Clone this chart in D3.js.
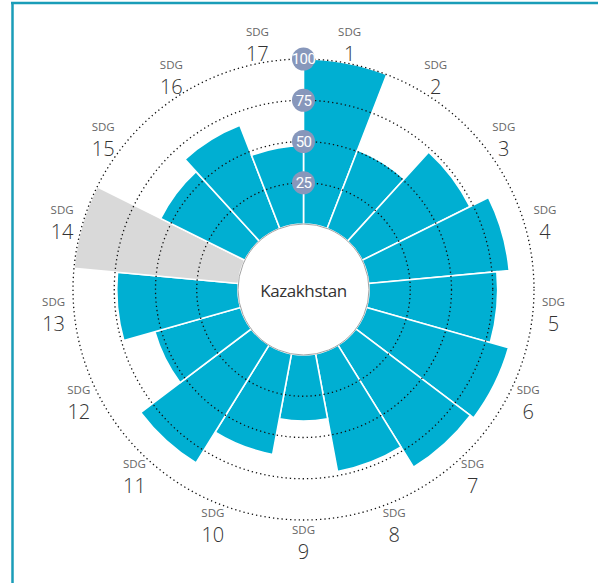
<!DOCTYPE html>
<html>
<head>
<meta charset="utf-8">
<script src="https://cdn.jsdelivr.net/npm/d3@7"></script>
<style>
  html, body { margin: 0; padding: 0; background: #fff; }
  svg { display: block; }
</style>
</head>
<body>
<svg id="chart" width="598" height="583"></svg>
<script>
// SDG goal numbers, clockwise from the top
const goals = ["1","2","3","4","5","6","7","8","9","10","11","12","13","14","15","16","17"];
// Goal scores for Kazakhstan (null = no data, drawn as a grey full-length wedge)
const scores = [100, 51, 73, 85.5, 78, 89.5, 87, 72.5, 40, 62, 84, 54, 73.5, null, 57, 67, 47.5];
// Reference rings
const ringTicks = [25, 50, 75, 100];
const country = "Kazakhstan";

const svg = d3.select("#chart");
const W = 598, H = 583;
const cx = 303.5, cy = 289.5;
const innerR = 65.5, outerR = 230.5;

// frame
svg.append("line").attr("x1", 11).attr("x2", W).attr("y1", 3).attr("y2", 3)
  .attr("stroke", "#1a9db8").attr("stroke-width", 2.5);
svg.append("line").attr("x1", 12.5).attr("x2", 12.5).attr("y1", 2).attr("y2", H)
  .attr("stroke", "#1a9db8").attr("stroke-width", 2.5);

const g = svg.append("g").attr("transform", `translate(${cx},${cy})`);

const angle = d3.scaleBand().domain(goals).range([0, 2 * Math.PI]).paddingInner(0).paddingOuter(0);
const radius = d3.scaleLinear().domain([0, 100]).range([innerR, outerR]);

const arc = d3.arc()
  .innerRadius(innerR)
  .outerRadius(d => radius(d.v === null ? 100 : d.v))
  .startAngle(d => angle(d.goal))
  .endAngle(d => angle(d.goal) + angle.bandwidth());

const rows = goals.map((goal, i) => ({ goal, v: scores[i] }));

g.selectAll("path.bar").data(rows).join("path")
  .attr("class", "bar")
  .attr("d", arc)
  .attr("fill", d => d.v === null ? "#d9d9d9" : "#00afd2")
  .attr("stroke", "#fff")
  .attr("stroke-width", 1.6)
  .attr("stroke-linejoin", "miter");

// dotted reference rings
g.selectAll("circle.ring").data(ringTicks).join("circle")
  .attr("class", "ring")
  .attr("r", d => radius(d))
  .attr("fill", "none")
  .attr("stroke", "#111")
  .attr("stroke-width", 1.3)
  .attr("stroke-dasharray", "1.3 3");

// centre disc with the country name
g.append("circle").attr("r", innerR)
  .attr("fill", "#fff").attr("stroke", "#9a9a9a").attr("stroke-width", 0.9);
g.append("text").text(country)
  .attr("text-anchor", "middle").attr("dy", "0.35em").attr("y", 2)
  .attr("font-family", "'Open Sans', 'Noto Sans', sans-serif")
  .attr("font-size", 17).attr("fill", "#333").attr("letter-spacing", -0.4);

// ring value badges along the vertical axis
const badge = g.selectAll("g.badge").data(ringTicks).join("g")
  .attr("class", "badge")
  .attr("transform", d => `translate(0,${-radius(d)})`);
badge.append("circle").attr("r", 11.5).attr("fill", "#8797bb");
badge.append("text").text(d => d)
  .attr("text-anchor", "middle").attr("dy", "0.36em")
  .attr("font-family", "'Liberation Sans Narrow', 'Roboto', sans-serif")
  .attr("font-size", 15).attr("fill", "#fff").attr("letter-spacing", -0.6);

// goal labels
const labelR = 251;
const lab = g.selectAll("g.lab").data(goals).join("g")
  .attr("class", "lab")
  .attr("transform", d => {
    const a = angle(d) + angle.bandwidth() / 2;
    return `translate(${labelR * Math.sin(a)},${-labelR * Math.cos(a)})`;
  });
lab.append("text").text("SDG")
  .attr("text-anchor", "middle").attr("y", -11).attr("dy", "0.35em")
  .attr("font-family", "'Open Sans', 'Noto Sans', sans-serif")
  .attr("font-size", 11.5).attr("fill", "#666");
lab.append("text").text(d => d)
  .attr("text-anchor", "middle").attr("y", 11).attr("dy", "0.35em")
  .attr("font-family", "'Open Sans', 'Noto Sans', sans-serif")
  .attr("font-weight", 300)
  .attr("font-size", 20).attr("fill", "#333");
</script>
</body>
</html>
